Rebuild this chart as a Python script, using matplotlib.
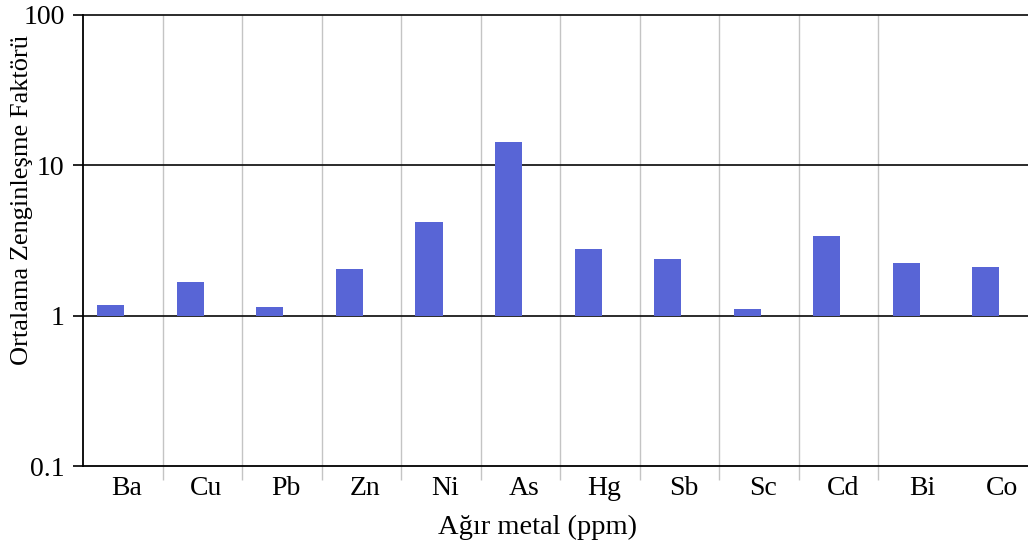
import numpy as np
import matplotlib
matplotlib.use("Agg")
import matplotlib.pyplot as plt

metals = ["Ba", "Cu", "Pb", "Zn", "Ni", "As", "Hg", "Sb", "Sc", "Cd", "Bi", "Co"]
ef = [1.18, 1.68, 1.15, 2.05, 4.2, 14.2, 2.78, 2.38, 1.11, 3.39, 2.24, 2.11]
yticks = [0.1, 1, 10, 100]
ytick_labels = ["0.1", "1", "10", "100"]

plt.rcParams["font.family"] = ["Liberation Serif", "DejaVu Serif"]

fig = plt.figure(figsize=(10.28, 5.5), dpi=100)
ax = fig.add_axes([83/1028, 84/550, 945/1028, 451/550])

x = np.arange(len(metals))
ax.bar(x - 0.15, np.array(ef) - 1, bottom=1, width=0.34, color="#5865d6", zorder=3)

ax.set_yscale("log")
ax.set_ylim(0.1, 100)
ax.set_xlim(-0.5, 11.38)
ax.set_yticks(yticks)
ax.set_yticklabels(ytick_labels)
ax.minorticks_off()
ax.tick_params(axis="y", which="major", length=7.2, width=1.2, color="black",
               labelsize=20, pad=6)

# category labels at centres, boundary lines as minor ticks/grid
ax.set_xticks(x + 0.05)
ax.set_xticklabels(metals)
ax.tick_params(axis="x", which="major", length=0, labelsize=20, pad=7)
ax.set_xticks(np.arange(0.5, 10, 1), minor=True)
ax.tick_params(axis="x", which="minor", length=10, width=1, color="#c4c4c4")
ax.grid(axis="x", which="minor", color="#c4c4c4", lw=1, zorder=0)
for yv in [1, 10, 100]:
    ax.axhline(yv, color="#1a1a1a", lw=1.3, zorder=2, clip_on=False)

for s in ["top", "right"]:
    ax.spines[s].set_visible(False)
ax.spines["left"].set_linewidth(1.3)
ax.spines["bottom"].set_linewidth(1.3)

ax.set_xlabel("Ağır metal (ppm)", fontsize=20.5)
ax.set_ylabel("Ortalama Zenginleşme Faktörü", fontsize=19)
ax.xaxis.set_label_coords((537 - 83) / 945, -(527 - 466) / 451)
ax.yaxis.set_label_coords(-(83 - 22) / 945, (466 - 200) / 451)
ax.xaxis.label.set_va("center")
ax.yaxis.label.set_va("center")

fig.savefig("out.png", dpi=100)
